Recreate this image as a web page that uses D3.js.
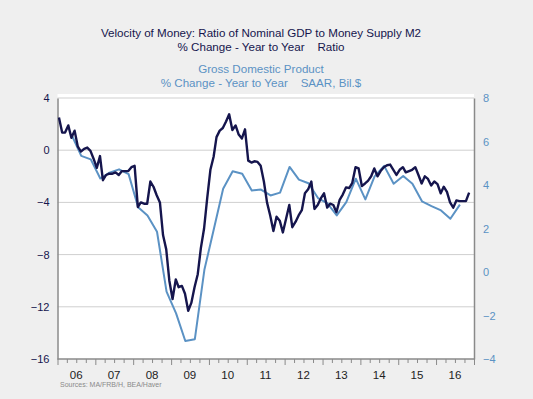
<!DOCTYPE html>
<html>
<head>
<meta charset="utf-8">
<script src="https://cdn.jsdelivr.net/npm/d3@7"></script>
<style>
  html, body { margin: 0; padding: 0; background: #efefef; }
  svg { display: block; font-family: "Liberation Sans", Arial, sans-serif; }
</style>
</head>
<body>
<div id="container"></div>
<script>
// velocity of M2, % change y/y, monthly from Jan 2006 (left axis)
const velocity = [
  2.5, 1.35, 1.35, 1.9, 0.95, 1.5, 0.3, -0.1, 0.1, 0.2, -0.05, -0.65,
  -1.35, -0.45, -2.3, -1.9, -1.8, -1.8, -1.7, -1.9, -1.6, -1.6, -1.6, -1.3,
  -1.2, -4.35, -4.0, -4.1, -4.1, -2.4, -2.8, -3.45, -4.0, -6.5, -7.6, -10.0,
  -11.4, -9.9, -10.5, -10.4, -11.0, -12.3, -11.7, -10.5, -9.5, -7.5, -6.0, -3.7,
  -1.5, -0.5, 1.0, 1.5, 1.7, 2.2, 2.75, 1.55, 1.9, 1.2, 0.9, 1.6,
  -0.8, -0.95, -0.85, -0.9, -1.2, -2.4, -4.0, -5.0, -6.2, -5.1, -5.4, -6.3,
  -5.25, -4.2, -5.9, -5.5, -5.0, -4.6, -3.3, -3.0, -2.4, -4.5, -4.2, -3.7,
  -3.3, -4.4, -4.1, -4.2, -4.75, -3.8, -3.4, -2.85, -2.9, -2.5, -1.3, -1.4,
  -2.75, -2.55, -2.35, -2.0, -1.4, -2.0, -1.6, -1.3, -1.15, -1.1, -1.5, -1.9,
  -1.5, -1.3, -1.7, -1.6, -1.5, -1.3, -1.9, -2.55, -2.0, -2.2, -2.7, -2.4,
  -2.6, -3.3, -2.8, -3.2, -4.0, -4.4, -3.85, -3.9, -3.9, -3.9, -3.25
];

// nominal GDP, % change y/y, quarterly from 2006 Q1 (right axis)
const gdp = [
  6.3, 5.34, 5.18, 4.3, 4.57, 4.72, 4.5, 2.98,
  2.6, 1.85, -0.9, -1.9, -3.17, -3.09, 0.1, 1.99,
  3.83, 4.63, 4.52, 3.75, 3.79, 3.52, 3.65, 4.83,
  4.25, 4.08, 3.4, 3.15, 2.6, 3.21, 4.29, 3.34,
  4.4, 4.88, 4.06, 4.41, 4.06, 3.25, 3.03, 2.83,
  2.45, 3.1
];

const yearLabels = ["06", "07", "08", "09", "10", "11", "12", "13", "14", "15", "16"];
const leftTicks = [4, 0, -4, -8, -12, -16];
const rightTicks = [8, 6, 4, 2, 0, -2, -4];

const width = 533;
const height = 399;
const plotLeft = 57.5;
const plotRight = 474;
const plotTop = 98;
const plotBottom = 359;

const navy = "#15154d";
const blue = "#5b92c4";

const start = new Date(2006, 0, 1);
const x = d3.scaleTime()
    .domain([start, new Date(2017, 0, 1)])
    .range([plotLeft, plotRight]);

const yL = d3.scaleLinear().domain([-16, 4]).range([plotBottom, plotTop]);
const yR = d3.scaleLinear().domain([-4, 8]).range([plotBottom, plotTop]);

const velData = velocity.map((v, i) => [new Date(2006, i, 15), v]);
const gdpData = gdp.map((v, i) => [new Date(2006, i * 3 + 4, 18), v]);

const svg = d3.select("#container").append("svg")
    .attr("width", width)
    .attr("height", height);

// plot area
svg.append("rect")
    .attr("x", plotLeft)
    .attr("y", plotTop - 4)
    .attr("width", plotRight - plotLeft)
    .attr("height", plotBottom - plotTop + 4)
    .attr("fill", "#fff");

// gridlines
svg.append("g")
    .selectAll("line")
    .data(leftTicks.slice(0, -1))
    .join("line")
    .attr("x1", plotLeft)
    .attr("x2", plotRight)
    .attr("y1", d => yL(d))
    .attr("y2", d => yL(d))
    .attr("stroke", "#cfcfcf")
    .attr("stroke-width", 1);

// titles
const title = svg.append("g").attr("text-anchor", "middle").style("font-size", "11.6px");
title.append("text").attr("x", 261).attr("y", 37).attr("fill", navy)
    .text("Velocity of Money: Ratio of Nominal GDP to Money Supply M2");
title.append("text").attr("x", 261).attr("y", 51).attr("fill", navy)
    .attr("xml:space", "preserve")
    .text("% Change - Year to Year    Ratio");
title.append("text").attr("x", 261).attr("y", 73).attr("fill", blue)
    .text("Gross Domestic Product");
title.append("text").attr("x", 261).attr("y", 87).attr("fill", blue)
    .attr("xml:space", "preserve")
    .text("% Change - Year to Year    SAAR, Bil.$");

// left axis
const gLeft = svg.append("g")
    .attr("transform", `translate(${plotLeft},0)`)
    .call(d3.axisLeft(yL).tickValues(leftTicks).tickSize(0).tickPadding(8));
gLeft.select(".domain").attr("stroke", "#8a8a8a").attr("stroke-width", 1.5);
gLeft.selectAll("text").attr("fill", navy).style("font-size", "11px").style("font-family", "Liberation Sans, Arial, sans-serif");

// right axis
const gRight = svg.append("g")
    .attr("transform", `translate(${plotRight},0)`)
    .call(d3.axisRight(yR).tickValues(rightTicks).tickSize(0).tickPadding(9));
gRight.select(".domain").attr("stroke", "#8a8a8a").attr("stroke-width", 1.5);
gRight.selectAll("text").attr("fill", blue).style("font-size", "11px").style("font-family", "Liberation Sans, Arial, sans-serif");

// bottom axis: quarterly ticks, year labels in mid-year
const gBottom = svg.append("g")
    .attr("transform", `translate(0,${plotBottom})`)
    .call(d3.axisBottom(x).ticks(d3.timeMonth.every(3)).tickSize(4).tickFormat(""));
gBottom.select(".domain").attr("stroke", "#8a8a8a").attr("stroke-width", 1.5).attr("d", `M${plotLeft},0H${plotRight}`);
gBottom.selectAll(".tick line").attr("stroke", "#8a8a8a");
gBottom.selectAll(".tick")
    .filter(d => d.getMonth() === 0)
    .select("line").attr("y2", 6);

svg.append("g")
    .selectAll("text")
    .data(yearLabels)
    .join("text")
    .attr("x", (d, i) => x(new Date(2006 + i, 6, 1)))
    .attr("y", 379)
    .attr("text-anchor", "middle")
    .attr("fill", "#222")
    .style("font-size", "11.5px")
    .text(d => d);

svg.append("text")
    .attr("x", 60)
    .attr("y", 387)
    .attr("fill", "#8a8a8a")
    .style("font-size", "7px")
    .text("Sources:  MA/FRB/H, BEA/Haver");

// lines
const clip = svg.append("clipPath").attr("id", "clip")
    .append("rect")
    .attr("x", plotLeft).attr("y", plotTop - 4)
    .attr("width", plotRight - plotLeft).attr("height", plotBottom - plotTop + 4);

svg.append("path")
    .datum(gdpData)
    .attr("clip-path", "url(#clip)")
    .attr("fill", "none")
    .attr("stroke", blue)
    .attr("stroke-width", 2)
    .attr("stroke-linejoin", "round")
    .attr("d", d3.line().x(d => x(d[0])).y(d => yR(d[1])));

svg.append("path")
    .datum(velData)
    .attr("clip-path", "url(#clip)")
    .attr("fill", "none")
    .attr("stroke", navy)
    .attr("stroke-width", 2.4)
    .attr("stroke-linejoin", "round")
    .attr("d", d3.line().x(d => x(d[0])).y(d => yL(d[1])));
</script>
</body>
</html>
